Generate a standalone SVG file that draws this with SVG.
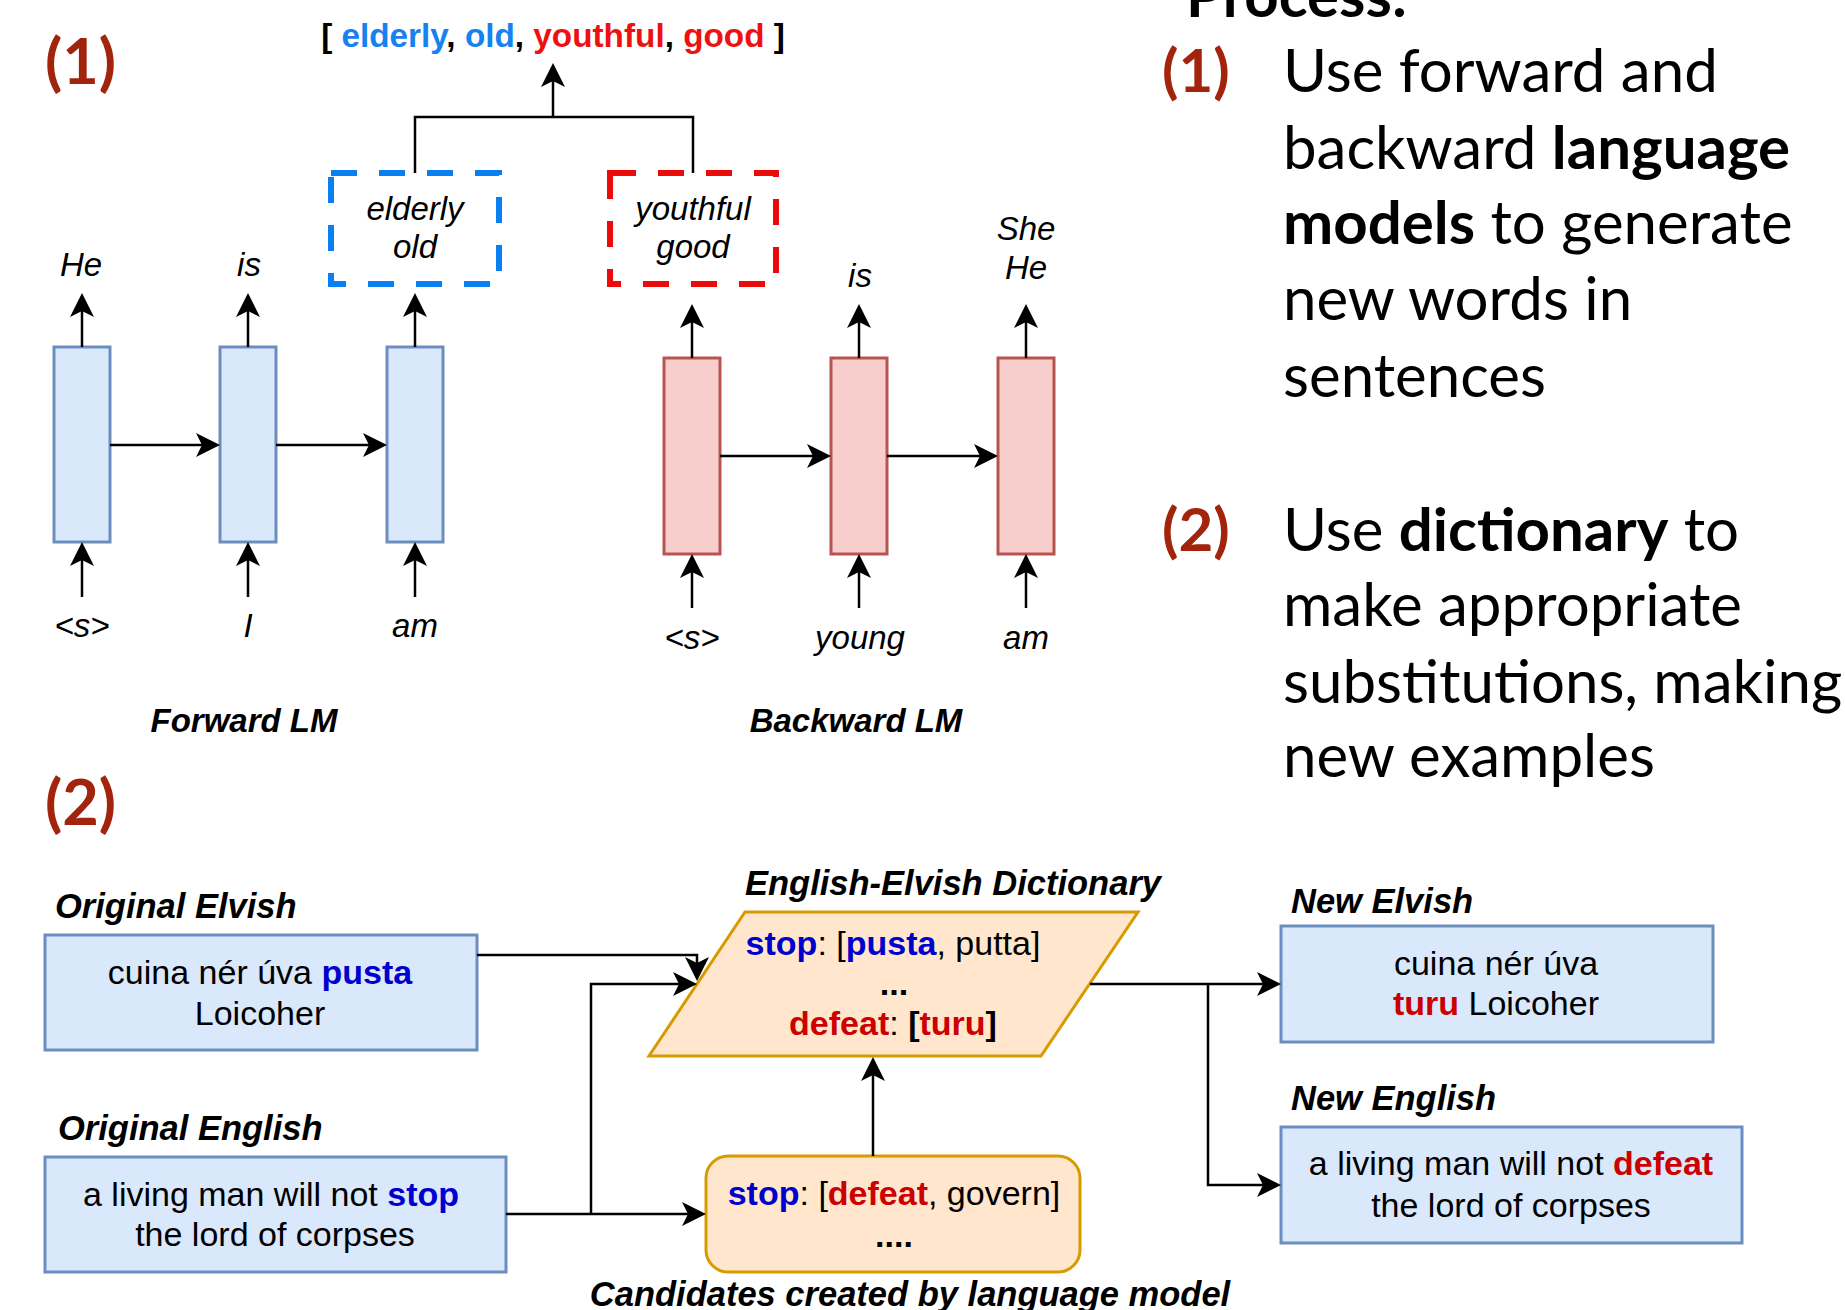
<svg xmlns="http://www.w3.org/2000/svg" width="1845" height="1310" viewBox="0 0 1845 1310">
<defs>
<marker id="ah" markerUnits="userSpaceOnUse" viewBox="-18 -14 28 28" markerWidth="28" markerHeight="28" refX="0" refY="0" orient="auto">
<path d="M8,0 L-16,-12 L-10,0 L-16,12 Z" fill="#000"/>
</marker>
<style>
.ln{fill:none;stroke:#000;stroke-width:2.5}
.arr{fill:none;stroke:#000;stroke-width:2.5;marker-end:url(#ah)}
.lbl{font-family:"Liberation Sans",Arial,sans-serif;font-size:33px;font-style:italic;text-anchor:middle;fill:#000}
.hd{font-family:"Liberation Sans",Arial,sans-serif;font-size:34.5px;font-style:italic;font-weight:bold;fill:#000}
.lm{font-family:"Liberation Sans",Arial,sans-serif;font-size:33px;font-style:italic;font-weight:bold;fill:#000;text-anchor:middle}
.bx{font-family:"Liberation Sans",Arial,sans-serif;font-size:34px;text-anchor:middle;fill:#000}
.blue{fill:#dae8fc;stroke:#6c8ebf;stroke-width:3}
.red{fill:#f8cecc;stroke:#b85450;stroke-width:3}
.org{fill:#ffe6cc;stroke:#d79b00;stroke-width:3}
.num{font-family:Lato,"Open Sans",sans-serif;font-size:63px;font-weight:bold;fill:#a3240c}
.num2{font-family:Lato,"Open Sans",sans-serif;font-size:60px;font-weight:bold;fill:#a3240c}
.body{font-family:Lato,"Open Sans",sans-serif;font-size:60px;fill:#000}
.b{font-weight:bold}
.cb{fill:#1682f0}
.cr{fill:#ee1111}
.db{fill:#0000cc;font-weight:bold}
.dr{fill:#cc0000;font-weight:bold}
</style>
</defs>

<!-- Section 1 -->
<text class="num" x="45" y="84">(1)</text>
<text x="553" y="47" text-anchor="middle" font-family="'Liberation Sans',Arial,sans-serif" font-size="33.3" font-weight="bold">[ <tspan class="cb">elderly</tspan>, <tspan class="cb">old</tspan>, <tspan class="cr">youthful</tspan>, <tspan class="cr">good</tspan> ]</text>

<g id="candbox-blue">
<rect x="331" y="173" width="168" height="111" fill="none" stroke="#0a7ff2" stroke-width="6" stroke-dasharray="26 22"/>
<text class="lbl" x="415" y="220">elderly</text>
<text class="lbl" x="415" y="258">old</text>
</g>
<g id="candbox-red">
<rect x="610" y="173" width="166" height="111" fill="none" stroke="#ee0a0a" stroke-width="6" stroke-dasharray="26 22"/>
<text class="lbl" x="693" y="220">youthful</text>
<text class="lbl" x="693" y="258">good</text>
</g>

<g id="fwd1"><rect class="blue" x="54" y="347" width="56" height="195"/></g>
<g id="fwd2"><rect class="blue" x="220" y="347" width="56" height="195"/></g>
<g id="fwd3"><rect class="blue" x="387" y="347" width="56" height="195"/></g>
<g id="bwd1"><rect class="red" x="664" y="358" width="56" height="196"/></g>
<g id="bwd2"><rect class="red" x="831" y="358" width="56" height="196"/></g>
<g id="bwd3"><rect class="red" x="998" y="358" width="56" height="196"/></g>

<g id="lm-labels">
<text class="lbl" x="81" y="276">He</text>
<text class="lbl" x="249" y="276">is</text>
<text class="lbl" x="82" y="637">&lt;s&gt;</text>
<text class="lbl" x="248" y="637">I</text>
<text class="lbl" x="415" y="637">am</text>
<text class="lbl" x="860" y="287">is</text>
<text class="lbl" x="1026" y="240">She</text>
<text class="lbl" x="1026" y="279">He</text>
<text class="lbl" x="692" y="649">&lt;s&gt;</text>
<text class="lbl" x="860" y="649">young</text>
<text class="lbl" x="1026" y="649">am</text>
<text class="lm" x="244" y="732">Forward LM</text>
<text class="lm" x="856" y="732">Backward LM</text>
</g>

<g id="connectors-1">
<path class="arr" d="M553,117 V71"/>
<path class="ln" d="M415,173 V117 H693 V173"/>
<path class="arr" d="M82,347 V301"/>
<path class="arr" d="M248,347 V301"/>
<path class="arr" d="M415,347 V301"/>
<path class="arr" d="M82,597 V550"/>
<path class="arr" d="M248,597 V550"/>
<path class="arr" d="M415,597 V550"/>
<path class="arr" d="M110,445 H212"/>
<path class="arr" d="M276,445 H379"/>
<path class="arr" d="M692,358 V312"/>
<path class="arr" d="M859,358 V312"/>
<path class="arr" d="M1026,358 V312"/>
<path class="arr" d="M692,608 V562"/>
<path class="arr" d="M859,608 V562"/>
<path class="arr" d="M1026,608 V562"/>
<path class="arr" d="M720,456 H823"/>
<path class="arr" d="M887,456 H990"/>
</g>

<!-- Right text -->
<g id="process-text">
<text class="body b" x="1186" y="17">Process:</text>
<text class="num2" x="1162" y="92">(1)</text>
<text class="body" x="1283" y="92">Use forward and</text>
<text class="body" x="1283" y="169">backward <tspan class="b">language</tspan></text>
<text class="body" x="1283" y="244"><tspan class="b">models</tspan> to generate</text>
<text class="body" x="1283" y="320">new words in</text>
<text class="body" x="1283" y="397">sentences</text>
<text class="num2" x="1162" y="551">(2)</text>
<text class="body" x="1283" y="551">Use <tspan class="b">dictionary</tspan> to</text>
<text class="body" x="1283" y="626">make appropriate</text>
<text class="body" x="1283" y="703">substitutions, making</text>
<text class="body" x="1283" y="777">new examples</text>
</g>

<!-- Section 2 -->
<text class="num" x="45" y="825">(2)</text>

<g id="orig-elvish">
<text class="hd" x="55" y="918">Original Elvish</text>
<rect class="blue" x="45" y="935" width="432" height="115"/>
<text class="bx" x="260" y="984">cuina nér úva <tspan class="db">pusta</tspan></text>
<text class="bx" x="260" y="1025">Loicoher</text>
</g>

<g id="orig-english">
<text class="hd" x="58" y="1140">Original English</text>
<rect class="blue" x="45" y="1157" width="461" height="115"/>
<text class="bx" x="271" y="1206">a living man will not <tspan class="db">stop</tspan></text>
<text class="bx" x="275" y="1246">the lord of corpses</text>
</g>

<g id="dictionary">
<text class="hd" x="953" y="895" text-anchor="middle">English-Elvish Dictionary</text>
<polygon class="org" points="745,912 1138,912 1041,1056 649,1056"/>
<text class="bx" x="893" y="955"><tspan class="db">stop</tspan>: [<tspan class="db">pusta</tspan>, putta]</text>
<text class="bx" x="894" y="995" font-weight="bold">...</text>
<text class="bx" x="893" y="1035"><tspan class="dr">defeat</tspan>: <tspan font-weight="bold">[</tspan><tspan class="dr">turu</tspan><tspan font-weight="bold">]</tspan></text>
</g>

<g id="candidates">
<rect class="org" x="706" y="1156" width="374" height="116" rx="22" ry="22"/>
<text class="bx" x="894" y="1205"><tspan class="db">stop</tspan>: [<tspan class="dr">defeat</tspan>, govern]</text>
<text class="bx" x="894" y="1247" font-weight="bold">....</text>
<text class="hd" x="910" y="1306" text-anchor="middle">Candidates created by language model</text>
</g>

<g id="new-elvish">
<text class="hd" x="1291" y="913">New Elvish</text>
<rect class="blue" x="1281" y="926" width="432" height="116"/>
<text class="bx" x="1496" y="975">cuina nér úva</text>
<text class="bx" x="1496" y="1015"><tspan class="dr">turu</tspan> Loicoher</text>
</g>

<g id="new-english">
<text class="hd" x="1291" y="1110">New English</text>
<rect class="blue" x="1281" y="1127" width="461" height="116"/>
<text class="bx" x="1511" y="1175">a living man will not <tspan class="dr">defeat</tspan></text>
<text class="bx" x="1511" y="1217">the lord of corpses</text>
</g>

<g id="connectors-2">
<path class="arr" d="M477,955 H697 V973"/>
<path class="arr" d="M506,1214 H698"/>
<path class="arr" d="M591,1214 V984 H689"/>
<path class="arr" d="M873,1156 V1065"/>
<path class="arr" d="M1090,984 H1273"/>
<path class="arr" d="M1208,984 V1185 H1273"/>
</g>
</svg>
